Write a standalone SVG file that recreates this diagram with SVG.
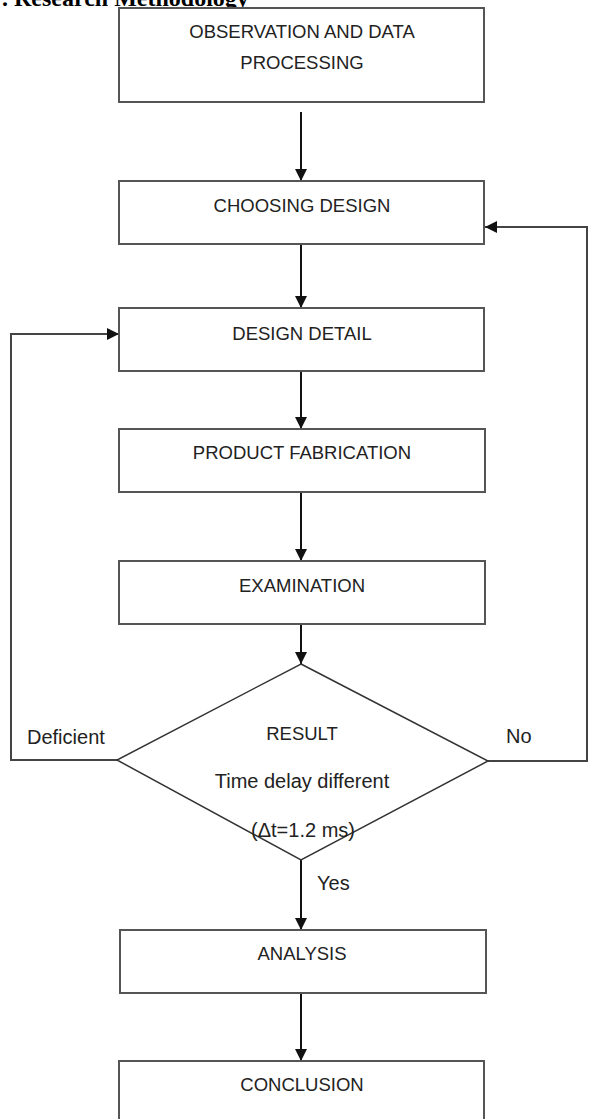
<svg xmlns="http://www.w3.org/2000/svg" width="589" height="1119" viewBox="0 0 589 1119">
<defs>
<style>
.box{fill:#fff;stroke:#555;stroke-width:2}
.t{font-family:"Liberation Sans",Arial,sans-serif;font-size:18.5px;fill:#222;text-anchor:middle}
.l{font-family:"Liberation Sans",Arial,sans-serif;font-size:20px;fill:#222}
.c{fill:none;stroke:#111;stroke-width:2}
.g{fill:none;stroke:#444;stroke-width:2}
</style>
<marker id="ah" viewBox="0 0 12 12" refX="12" refY="6" markerWidth="12" markerHeight="12" markerUnits="userSpaceOnUse" orient="auto">
<path d="M0,0 L12,6 L0,12 z" fill="#111"/>
</marker>
</defs>
<rect width="589" height="1119" fill="#fff"/>
<text x="2" y="6" font-family="Liberation Serif,Times New Roman,serif" font-weight="bold" font-size="24" fill="#000">. Research Methodology</text>
<g id="connectors">
<path class="c" d="M301,112 V181" marker-end="url(#ah)"/>
<path class="c" d="M301,244 V308" marker-end="url(#ah)"/>
<path class="c" d="M301,371 V429" marker-end="url(#ah)"/>
<path class="c" d="M301,492 V561" marker-end="url(#ah)"/>
<path class="c" d="M301,624 V664" marker-end="url(#ah)"/>
<path class="c" d="M301,860 V930" marker-end="url(#ah)"/>
<path class="c" d="M301,993 V1061" marker-end="url(#ah)"/>
<path class="g" d="M117,760 H11 V334 H119" marker-end="url(#ah)"/>
<path class="g" d="M488,761 H587 V227 H485" marker-end="url(#ah)"/>
<text class="l" x="27" y="744">Deficient</text>
<text class="l" x="506" y="743">No</text>
<text class="l" x="317" y="890">Yes</text>
</g>
<g id="n1"><rect class="box" x="119" y="8" width="365" height="94"/>
<text class="t" x="302" y="38">OBSERVATION AND DATA</text>
<text class="t" x="302" y="69">PROCESSING</text></g>
<g id="n2"><rect class="box" x="119" y="181" width="365" height="63"/>
<text class="t" x="302" y="212">CHOOSING DESIGN</text></g>
<g id="n3"><rect class="box" x="119" y="308" width="365" height="63"/>
<text class="t" x="302" y="340">DESIGN DETAIL</text></g>
<g id="n4"><rect class="box" x="119" y="429" width="366" height="63"/>
<text class="t" x="302" y="459">PRODUCT FABRICATION</text></g>
<g id="n5"><rect class="box" x="119" y="561" width="366" height="63"/>
<text class="t" x="302" y="592">EXAMINATION</text></g>
<g id="n6"><path d="M301,664 L488,761 L301,860 L117,760 Z" fill="#fff" stroke="#333" stroke-width="1.5"/>
<text class="t" x="302" y="740">RESULT</text>
<text class="l" x="302" y="788" text-anchor="middle">Time delay different</text>
<text class="l" x="303" y="837" text-anchor="middle">(Δt=1.2 ms)</text></g>
<g id="n7"><rect class="box" x="120" y="930" width="366" height="63"/>
<text class="t" x="302" y="960">ANALYSIS</text></g>
<g id="n8"><rect class="box" x="119" y="1061" width="365" height="80"/>
<text class="t" x="302" y="1091">CONCLUSION</text></g>
</svg>
